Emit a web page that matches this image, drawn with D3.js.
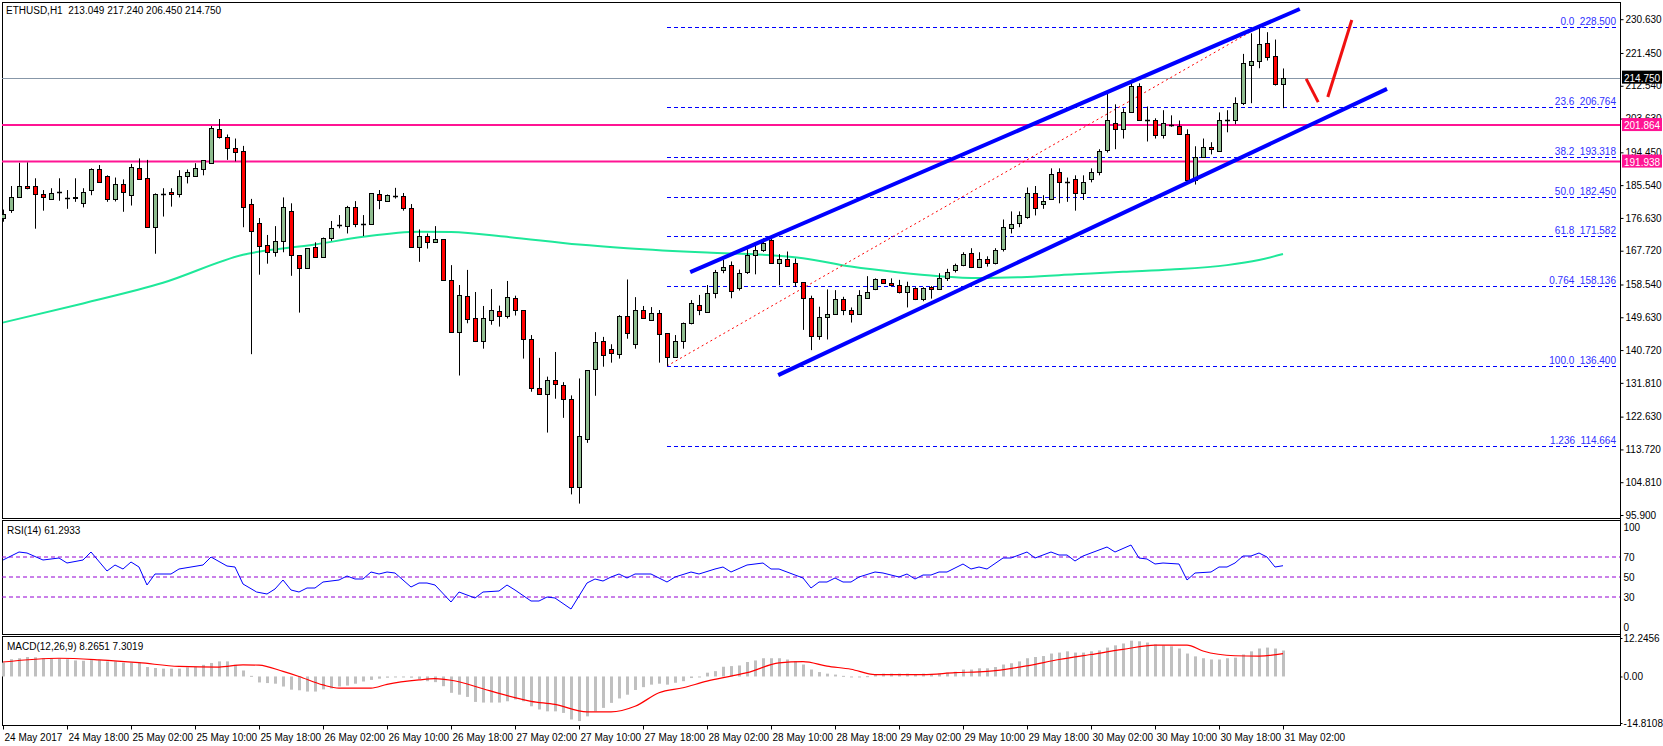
<!DOCTYPE html>
<html><head><meta charset="utf-8">
<script src="https://cdn.jsdelivr.net/npm/d3@7/dist/d3.min.js"></script>
<style>body{margin:0;background:#fff}svg{display:block}text{font-family:"Liberation Sans",Arial,sans-serif;font-size:10px;white-space:pre}</style>
</head><body><svg id="c" width="1663" height="746"></svg>
<script>
// ---------- DATA ----------
const timeLabels=["24 May 2017","24 May 18:00","25 May 02:00","25 May 10:00","25 May 18:00","26 May 02:00","26 May 10:00","26 May 18:00","27 May 02:00","27 May 10:00","27 May 18:00","28 May 02:00","28 May 10:00","28 May 18:00","29 May 02:00","29 May 10:00","29 May 18:00","30 May 02:00","30 May 10:00","30 May 18:00","31 May 02:00"];
const priceTicks=[230.630,221.450,212.540,203.630,194.450,185.540,176.630,167.720,158.540,149.630,140.720,131.810,122.630,113.720,104.810,95.900];
const ohlc=[
[176.5,178.9,175.6,177.6],[178.9,185.3,178.0,182.2],[182.2,191.6,182.2,185.2],[185.2,191.7,184.4,184.7],[185.2,187.4,173.7,183.0],
[183.0,184.2,178.6,182.2],[181.9,184.7,181.5,183.3],[183.8,187.4,181.3,183.8],[182.1,184.2,179.1,182.1],[182.1,187.4,181.0,182.2],
[180.6,184.7,179.5,183.8],[184.1,190.1,182.8,189.8],[189.8,191.0,186.3,186.3],[187.9,188.2,181.0,181.9],[181.7,187.6,181.1,185.8],
[185.8,187.1,178.3,183.8],[182.8,191.3,180.0,190.4],[190.1,192.8,187.1,187.1],[187.6,192.4,174.1,174.1],[174.1,183.3,166.9,183.0],
[183.1,184.7,177.0,183.1],[183.6,184.7,179.7,183.0],[183.0,189.6,182.2,187.9],[187.9,189.8,186.0,189.0],[187.9,191.5,187.8,190.1],
[190.0,192.3,188.2,192.3],[191.5,201.6,191.5,201.2],[200.8,203.5,198.2,198.5],[198.5,199.3,192.4,195.5],[195.5,198.2,192.0,194.6],
[194.8,196.2,174.1,179.7],[180.3,181.8,139.6,173.2],[175.2,176.6,161.2,169.1],[169.2,172.0,164.2,167.3],[167.3,174.4,166.1,170.3],
[170.3,182.2,167.3,179.5],[178.4,180.6,160.9,166.5],[166.5,166.5,150.9,162.9],[162.9,168.4,162.9,168.4],[168.6,170.0,166.1,166.1],
[166.1,171.3,166.1,171.1],[171.1,175.8,170.4,173.8],[174.8,177.4,173.8,174.8],[174.3,179.9,172.4,179.5],[179.5,181.2,174.1,175.1],
[175.1,177.4,171.7,175.1],[175.1,183.3,175.1,183.3],[183.0,184.2,179.0,181.4],[181.1,183.0,181.1,182.8],[182.7,184.8,181.9,182.7],
[182.5,183.4,178.6,179.2],[179.2,180.4,168.5,168.8],[168.8,173.5,164.7,171.6],[171.6,172.4,168.3,170.2],[170.2,174.4,170.2,170.8],
[170.8,170.8,159.7,159.7],[159.7,163.8,145.5,145.7],[145.7,158.4,133.8,155.6],[155.3,162.5,148.0,149.1],[149.3,156.5,142.9,143.3],
[143.1,152.7,141.1,149.3],[149.0,157.3,147.6,151.5],[151.2,152.8,147.1,149.9],[149.9,159.5,149.3,155.1],[154.9,155.5,150.1,151.5],
[151.5,151.5,138.4,143.6],[143.6,144.8,129.4,130.3],[130.3,138.6,128.7,128.9],[128.9,133.5,118.3,132.6],[132.6,140.2,127.5,131.4],
[131.1,132.0,122.3,127.3],[127.3,128.4,101.5,103.4],[103.4,133.0,99.0,117.5],[116.5,135.3,115.5,135.3],[135.5,145.6,128.3,142.8],
[143.3,144.3,136.2,139.3],[140.9,142.3,137.3,139.8],[139.6,150.2,138.4,149.9],[150.1,159.9,143.8,145.3],[142.4,155.1,141.1,151.5],
[151.5,152.7,149.3,149.3],[149.0,152.4,149.0,150.7],[150.7,151.6,137.3,145.2],[145.3,145.3,136.4,138.9],[138.9,144.8,138.6,143.3],
[143.3,148.2,141.1,148.2],[148.2,154.3,147.7,153.4],[152.9,155.7,150.2,151.5],[151.0,158.4,151.0,156.1],[156.1,162.5,154.8,161.8],
[162.4,165.2,161.6,163.2],[163.7,164.8,154.8,156.9],[157.5,162.6,156.9,161.6],[161.8,168.1,161.4,166.5],[166.5,169.0,161.3,167.8],
[167.8,171.1,167.4,169.7],[170.5,171.1,164.5,164.5],[164.3,166.8,158.3,165.4],[165.6,167.5,163.5,163.5],[164.3,165.6,157.9,159.1],
[159.2,159.2,146.2,154.8],[154.8,155.5,140.7,144.5],[144.5,152.5,143.5,149.8],[149.8,157.2,143.6,150.4],[150.4,157.0,150.4,154.6],
[154.6,155.2,150.2,151.6],[151.6,152.3,148.2,150.5],[150.5,157.0,150.5,155.6],[154.8,160.8,154.8,156.4],[157.2,160.2,157.0,159.9],
[159.9,159.9,158.7,158.9],[158.9,160.2,158.1,158.3],[158.3,159.8,156.1,156.4],[156.4,159.3,152.3,158.0],[157.5,157.8,154.3,154.5],
[154.5,157.8,154.0,157.5],[157.8,158.1,154.7,157.2],[157.2,161.6,157.2,160.2],[160.2,162.8,159.5,162.0],[162.5,164.2,161.8,163.8],
[163.8,167.3,163.5,166.7],[167.0,168.4,163.0,163.4],[163.4,167.3,163.0,165.4],[165.4,166.2,163.4,164.3],[164.3,168.4,164.0,167.9],
[168.1,176.2,167.5,174.2],[173.8,178.4,172.4,175.0],[175.2,178.4,174.1,177.4],[177.0,184.9,176.4,183.3],[183.3,185.3,177.3,179.2],
[180.3,182.8,179.1,181.3],[181.7,190.1,181.7,188.6],[189.0,190.1,180.6,186.3],[186.5,187.6,181.0,186.5],[187.1,188.2,178.6,183.3],
[183.3,188.2,181.5,186.3],[187.1,190.1,186.3,189.2],[189.2,195.3,188.2,194.7],[195.0,210.5,194.4,203.2],[202.3,207.5,195.3,200.7],
[200.7,206.4,198.2,205.3],[205.3,213.2,205.3,212.4],[212.4,213.2,203.2,203.2],[203.2,206.9,197.4,203.2],[203.2,203.7,198.2,199.1],
[199.1,205.9,198.2,202.3],[201.9,204.5,201.4,202.0],[201.6,203.1,199.3,199.3],[199.3,200.7,186.8,186.8],[186.8,196.1,185.7,193.2],
[193.2,198.2,193.2,195.8],[195.8,197.2,193.9,195.3],[194.7,205.3,194.7,203.2],[203.2,205.9,199.9,203.2],[203.2,209.4,202.1,207.8],
[207.8,221.2,207.3,218.6],[218.1,226.8,207.8,219.2],[219.2,228.5,217.3,223.9],[224.1,227.1,219.4,220.3],[220.5,225.1,212.6,212.9],
[213.049,217.24,206.45,214.75]];
const maIdx=[0,10,20,30,39,45,52,56,63,72,78,88,96,100,106,112,117,122,128,134,140,146,153,157,160];
const maVal=[148.2,153.4,159.0,166.6,169.4,171.5,172.9,172.8,171.5,169.4,168.4,167.2,166.5,165.7,163.4,161.8,160.8,160.3,160.6,161.3,162.0,162.6,163.8,165.2,166.8];
const fibLevels=["0.0","23.6","38.2","50.0","61.8","0.764","100.0","1.236"];
const fibPrices=[228.500,206.764,193.318,182.450,171.582,158.136,136.400,114.664];
const hLines=[201.864,191.938];
const lastPrice=214.750;
const rsiIdx=[0,2,3,5,7,8,10,11,13,14,15,16,17,18,19,21,22,25,26,28,29,30,31.7,33,34,35,36,37,38,39,40,42,43,44,45,46,47,48,49,51,52,53,54,56,57,59,60,62,63,64,66,67,68,69,71,73,74,75,76,77,78,79,81,83,84,86,87,89,90,91,93,95,96,97,100,101,102,103,104,105,106,107,109,110,112,113,114,115,116,117,118,120,121,122,123,125,126,128,129,131,132,133,134,135,138,139,141,142,143,144,145,147,148,149,151,152,153,154,155,156,157,158,159,160];
const rsiVal=[67,75,74,67,69,64,67,75,56,62,58,65,60,42,53,53,58,62,70,61,60,43,35,33,38,47,37,35,39,39,45,47,51,48,48,55,53,55,54,40,44,44,42,25,35,29,35,36,42,37,26,26,30,29,18,44,48,46,50,53,49,53,53,45,50,55,53,58,60,55,62,64,58,58,49,39,45,45,49,45,45,50,55,54,50,53,48,52,52,55,55,63,58,60,58,69,69,75,69,75,72,72,66,71,80,75,82,69,68,63,64,63,47,54,55,60,60,64,71,71,74,70,60,61.29];
const macdHist=[4.4,5.5,5.8,6.2,6.1,5.8,5.8,5.7,5.5,5.1,5.0,5.2,5.2,4.8,4.8,4.4,4.4,4.4,3.0,2.7,2.5,2.5,2.5,2.9,3.0,3.7,4.3,4.8,4.8,3.7,1.9,0.2,-1.9,-2.1,-2.3,-3.2,-4.2,-4.4,-4.8,-4.8,-4.1,-3.8,-3.2,-2.9,-2.3,-1.6,-1.1,-0.7,-0.4,-0.3,-0.1,-0.4,-0.8,-1.5,-1.8,-3.1,-5.2,-5.8,-6.5,-8.1,-8.3,-8.3,-8.3,-7.9,-7.3,-7.9,-9.5,-10.5,-11.1,-11.1,-11.6,-13.7,-14.2,-12.7,-11.1,-10.0,-8.4,-7.0,-5.8,-4.3,-3.4,-2.6,-2.3,-2.6,-2.0,-1.5,-0.5,-0.1,1.2,1.7,3.1,3.3,3.5,4.6,5.1,5.8,5.8,5.8,5.4,4.9,3.8,2.2,1.4,0.9,0.6,0.2,-0.1,-0.1,0.1,0.6,0.9,0.9,0.9,0.9,0.6,0.9,0.6,0.9,1.2,1.5,2.2,2.2,2.6,2.6,3.0,3.8,4.2,4.8,5.8,6.2,6.5,7.3,7.6,8.0,7.6,7.6,8.0,8.3,9.2,9.9,10.5,11.4,11.2,10.8,10.2,9.9,9.6,8.9,7.3,6.4,5.8,5.4,5.4,5.8,6.0,7.0,8.0,8.9,9.2,8.9,8.2651];
const sigIdx=[0,7,12,17,22,27,30,32,35,37,40,42,46,48,52,54,56,60,62,66,69,73,76,79,82,85,88,91,93,97,100,103,106,109,115,119,123,128,132,136,140,144,148,150,154,157,160];
const sigVal=[4.6,5.8,5.3,4.4,3.2,3.0,3.7,3.6,1.6,0.0,-2.7,-3.7,-3.7,-2.5,-1.1,-0.7,-1.2,-3.9,-5.4,-7.9,-8.9,-11.3,-11.3,-9.5,-5.2,-3.6,-1.5,0.1,1.2,4.3,4.7,3.3,2.3,0.6,0.6,1.2,1.6,3.4,5.4,7.0,8.6,10.0,10.0,8.1,6.6,6.5,7.30];
// drawn annotations: [index, price] pairs
const channelUpper=[[85.9,161.9],[162.1,233.4]];
const channelLower=[[96.9,133.9],[173.0,211.7]];
const fibTrend=[[83,136.4],[157,228.5]];
const arrowPts=[[[162.9,214.4],[164.4,208.1]],[[165.6,209.5],[168.6,230.4]]];

// ---------- SCALES ----------
const svg=d3.select("#c");
const L=2,R=1620;
const x=d3.scaleLinear().domain([0,160]).range([3,1283]);
const y=d3.scaleLinear().domain([95.9,230.63]).range([515,19.2]);
const yr=d3.scaleLinear().domain([0,100]).range([627,527]);
const ym=d3.scaleLinear().domain([-14.8108,12.2456]).range([723,638]);
const FONT="Liberation Sans";

const defs=svg.append("defs");
[["cm",2,518],["cr",520,634],["cmd",636,725]].forEach(([id,t,b])=>defs.append("clipPath").attr("id",id).append("rect").attr("x",L).attr("y",t).attr("width",R-L).attr("height",b-t));

[[2,518],[520,634],[636,725]].forEach(([t,b])=>svg.append("rect").attr("x",L+0.5).attr("y",t+0.5).attr("width",R-L).attr("height",b-t).attr("fill","none").attr("stroke","#000"));

const main=svg.append("g").attr("clip-path","url(#cm)");
fibPrices.forEach((p,k)=>{
  const yy=Math.round(y(p))+0.5;
  main.append("line").attr("x1",x(83)).attr("x2",R-2).attr("y1",yy).attr("y2",yy).attr("stroke","#0000ff").attr("stroke-dasharray","4,3");
  main.append("text").attr("x",R-4).attr("y",yy-3).attr("text-anchor","end").attr("fill","#3030ff").text(fibLevels[k]+"  "+p.toFixed(3));
});
main.append("line").attr("x1",L).attr("x2",R).attr("y1",Math.round(y(lastPrice))+0.5).attr("y2",Math.round(y(lastPrice))+0.5).attr("stroke","#8797a8");
hLines.forEach(p=>main.append("line").attr("x1",L).attr("x2",R).attr("y1",y(p)).attr("y2",y(p)).attr("stroke","#ff1493").attr("stroke-width",2));
main.append("path").datum(maIdx.map((d,k)=>[d,maVal[k]])).attr("fill","none").attr("stroke","#1ee89a").attr("stroke-width",2)
  .attr("d",d3.line().x(d=>x(d[0])).y(d=>y(d[1])).curve(d3.curveMonotoneX));
main.append("line").attr("x1",x(fibTrend[0][0])).attr("y1",y(fibTrend[0][1])).attr("x2",x(fibTrend[1][0])).attr("y2",y(fibTrend[1][1])).attr("stroke","#ff0000").attr("stroke-dasharray","2,3");
const cg=main.append("g");
ohlc.forEach((c,i)=>{
  const [o,h,l,cl]=c, cx=Math.round(x(i))+0.5;
  cg.append("line").attr("x1",cx).attr("x2",cx).attr("y1",y(h)).attr("y2",y(l)).attr("stroke","#000");
  const top=Math.round(y(Math.max(o,cl))), bot=Math.round(y(Math.min(o,cl)));
  if(bot-top<1){cg.append("line").attr("x1",cx-2.5).attr("x2",cx+2.5).attr("y1",top+0.5).attr("y2",top+0.5).attr("stroke","#000").attr("stroke-width",1.5);}
  else cg.append("rect").attr("x",cx-2).attr("y",top+0.5).attr("width",4).attr("height",bot-top).attr("fill",cl>=o?"#8fbc8f":"#ff0000").attr("stroke","#000");
});
[channelUpper,channelLower].forEach(c=>main.append("line").attr("x1",x(c[0][0])).attr("y1",y(c[0][1])).attr("x2",x(c[1][0])).attr("y2",y(c[1][1])).attr("stroke","#0000ff").attr("stroke-width",4));
arrowPts.forEach(a=>main.append("line").attr("x1",x(a[0][0])).attr("y1",y(a[0][1])).attr("x2",x(a[1][0])).attr("y2",y(a[1][1])).attr("stroke","#f01010").attr("stroke-width",3));
svg.append("text").attr("x",6).attr("y",14).text("ETHUSD,H1  213.049 217.240 206.450 214.750");

function styleAxis(g){g.select(".domain").remove();g.selectAll("text").attr("font-size",10).attr("font-family",FONT).attr("fill","#000");}
const pa=svg.append("g").attr("transform",`translate(${R+0.5},0)`).call(d3.axisRight(y).tickValues(priceTicks).tickFormat(d3.format(".3f")).tickSize(3).tickPadding(2));
styleAxis(pa);
svg.append("line").attr("x1",R+0.5).attr("x2",R+0.5).attr("y1",2).attr("y2",725).attr("stroke","#000");
function tag(p,bg){const yy=y(p);svg.append("rect").attr("x",R+2).attr("y",yy-7).attr("width",40).attr("height",13).attr("fill",bg);
 svg.append("text").attr("x",R+4).attr("y",yy+4).attr("fill","#fff").text(p.toFixed(3));}
hLines.forEach(p=>tag(p,"#ff1493"));
tag(lastPrice,"#000");

const rg=svg.append("g").attr("clip-path","url(#cr)");
[70,50,30].forEach(v=>rg.append("line").attr("x1",L).attr("x2",R).attr("y1",yr(v)).attr("y2",yr(v)).attr("stroke","#9400d3").attr("stroke-dasharray","4,3"));
rg.append("path").datum(rsiIdx.map((d,k)=>[d,rsiVal[k]])).attr("fill","none").attr("stroke","#0000ff").attr("d",d3.line().x(d=>x(d[0])).y(d=>yr(d[1])));
svg.append("text").attr("x",7).attr("y",534).text("RSI(14) 61.2933");
const ra=svg.append("g").attr("transform",`translate(${R+0.5},0)`).call(d3.axisRight(yr).tickValues([100,70,50,30,0]).tickSize(0).tickPadding(3));
styleAxis(ra);

const mg=svg.append("g").attr("clip-path","url(#cmd)");
macdHist.forEach((v,i)=>mg.append("rect").attr("x",x(i)-1).attr("width",3).attr("y",Math.min(ym(v),ym(0))).attr("height",Math.max(1,Math.abs(ym(v)-ym(0)))).attr("fill","#c0c0c0"));
mg.append("path").datum(sigIdx.map((d,k)=>[d,sigVal[k]])).attr("fill","none").attr("stroke","#ff0000").attr("stroke-width",1.2).attr("d",d3.line().x(d=>x(d[0])).y(d=>ym(d[1])).curve(d3.curveMonotoneX));
svg.append("text").attr("x",7).attr("y",650).text("MACD(12,26,9) 8.2651 7.3019");
const ma=svg.append("g").attr("transform",`translate(${R+0.5},0)`).call(d3.axisRight(ym).tickValues([12.2456,0,-14.8108]).tickFormat(d=>d===0?"0.00":d.toString()).tickSize(2).tickPadding(1));
styleAxis(ma);
ma.selectAll("text").attr("font-size",9.5);

const ta=svg.append("g").attr("transform","translate(0,725.5)").call(d3.axisBottom(x).tickValues(d3.range(0,161,8)).tickFormat((d,k)=>timeLabels[k]).tickSize(4).tickPadding(4));
styleAxis(ta);
ta.selectAll("text").attr("text-anchor","start").attr("dx",1);
</script></body></html>
